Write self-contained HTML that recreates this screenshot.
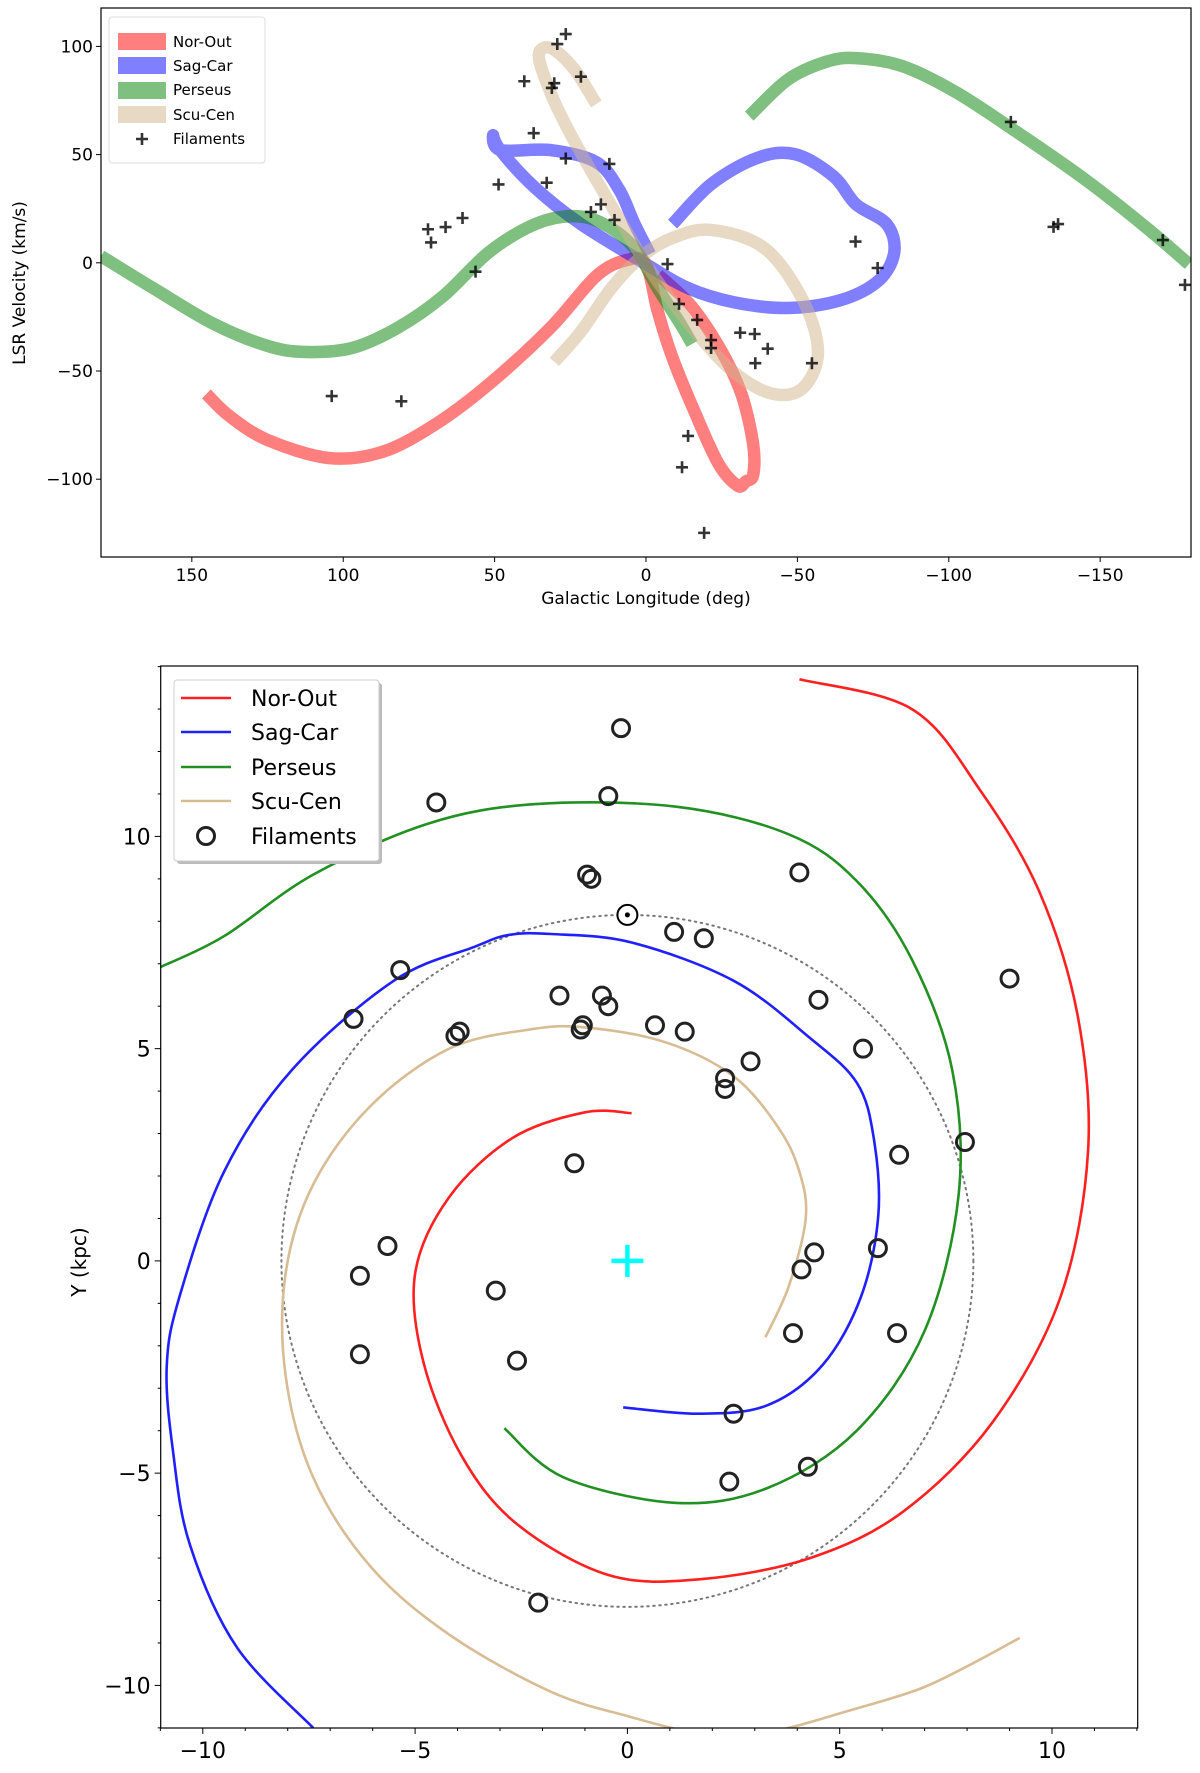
<!DOCTYPE html>
<html><head><meta charset="utf-8"><style>
body{margin:0;background:#fff}
svg text{font-family:"DejaVu Sans","Liberation Sans",sans-serif}
</style></head><body>
<svg id="fig" width="1200" height="1768" viewBox="0 0 1200 1768" xmlns="http://www.w3.org/2000/svg">
<rect width="1200" height="1768" fill="#fff"/>
<g id="top"></g>
<g id="bot"></g>
</svg>
<script>
// ---- top chart data (longitude deg, velocity km/s) ----
const norOutL=[145.2,137.6,125,104.8,87.1,69.4,51.8,31.6,16.4,6.3,0,-3.8,-8.8,-16.4,-24,-30.3,-33,-35.4,-35.4,-31.6,-25,-15,-4];
const norOutV=[-60.6,-70.8,-81.9,-90.2,-87.4,-74.5,-56,-30.1,-6.1,1.3,-0.6,-22,-44,-70,-93,-103,-101,-98,-84,-61,-41,-20,-5.5];
const sagCarL=[-8.8,-21.5,-36.6,-49.2,-61.9,-69.4,-79.5,-82,-77,-64.4,-46.7,-29,-13.9,0,21.5,36.6,48,50.5,48,31.6,16.4,8.8,3.8,-1.3];
const sagCarV=[17.9,36.3,48.4,50.2,40,27,17.9,5,-8,-17.2,-20.9,-18.2,-11.7,-0.6,17.9,34.6,51.8,58.9,52.1,52.1,46.5,33.6,18,4];
const perL=[180,162.9,142.7,125,112.4,97.2,82.1,66.9,51.8,36.6,24,13.9,3.8,-3.8,-11.4,-15.2];
const perV=[3.1,-11.6,-28.3,-38.4,-41.2,-39.4,-30.1,-15.3,5,17.9,21.6,17.9,6.8,-11.6,-28.3,-37.5];
const per2L=[-34.1,-46.7,-59.3,-69.4,-84.6,-102.3,-122.5,-145.2,-165.4,-179.3];
const per2V=[67.8,84.5,92.8,94.6,90.9,78.9,60.4,38.3,16.1,-0.6];
const scuL=[16.4,24,31.6,35.4,31.6,25.3,16.4,6.3,0,-6.3,-16.4,-29,-41.7,-51.8,-56.8,-51.8,-39.1,-21.5,-8.8,1.3,11.4,21.5,30.3];
const scuV=[73.4,90,99.3,95.6,78.9,60.4,38.3,14.2,-0.6,-13.5,-32,-50.5,-60.5,-57.9,-41.2,-17.2,6.8,15.2,11.5,3.1,-11.6,-31.8,-45.8];
const filL=[26.5,29.3,40.2,21.5,30.3,31.1,37.1,26.5,12.1,48.7,32.8,60.6,66.2,72,71,14.9,18.2,10.4,56.3,-7.1,-69.2,-76.5,-120.5,-134.6,-136.1,-170.7,-178,-10.9,-16.9,-21.5,-21.5,-31.1,-35.9,-40.2,-36.1,-54.8,103.8,80.8,-13.9,-11.9,-19.2];
const filV=[105.7,101.1,83.9,86,83,80.8,59.9,48.2,45.7,36.2,37,20.7,16.5,15.5,9.4,27,23.5,19.8,-4.1,-0.6,9.8,-2.4,65.1,16.6,17.9,10.5,-10.2,-19,-26.4,-35.7,-39.4,-32.3,-32.9,-39.7,-46.4,-46.4,-61.6,-64,-80,-94.5,-124.8];
const topXTicks=[150,100,50,0,-50,-100,-150];
const topYTicks=[100,50,0,-50,-100];
// ---- bottom chart data (kpc) ----
const noX=[0.1,-1,-2.7,-4.2,-5,-4.8,-3.9,-2.6,-0.45,1.7,4.3,6.5,8.6,10.2,10.85,10.6,9.7,8.3,6.7,4.05];
const noY=[3.48,3.5,2.9,1.5,-0.3,-2.4,-4.6,-6.2,-7.4,-7.5,-7.0,-5.9,-3.8,-0.85,2.6,5.8,8.7,11.1,13.0,13.7];
const scX=[-0.1,1.7,3.3,4.6,5.5,5.91,5.8,5.4,4.3,2.5,0.1,-1.8,-2.79,-3.6,-5.5,-7.9,-9.5,-10.55,-10.85,-10.7,-10.3,-9.2,-7.4];
const scY=[-3.45,-3.6,-3.4,-2.45,-0.85,1.07,2.9,4.2,5.25,6.6,7.5,7.7,7.68,7.4,6.6,4.5,2.1,-0.85,-2.5,-4.5,-6.7,-9.1,-11];
const peX=[-2.9,-1.5,1.15,3.3,5.4,7.0,7.8,7.65,6.7,5.4,3.8,1.15,-2.16,-4.7,-7.4,-9.5,-11];
const peY=[-3.94,-5.1,-5.7,-5.35,-4.0,-1.65,1.55,4.5,7.1,8.95,10.05,10.7,10.76,10.3,9.1,7.65,6.92];
const sqX=[3.25,3.8,4.2,4.05,3.55,2.5,0.9,-1.0,-2.3,-4.2,-6.05,-7.4,-8.05,-8.05,-7.4,-6.05,-4.2,-1.8,0.1,1.5,2.6,3.8,5.2,6.84,8,9.24];
const sqY=[-1.8,-0.6,1.0,2.1,3.15,4.35,5.15,5.5,5.45,5.0,3.65,1.8,-0.3,-2.7,-5.1,-7.2,-8.8,-10.15,-10.75,-11.1,-11.2,-11.0,-10.6,-10.1,-9.55,-8.88];
const ciX=[-0.15,-4.5,-0.45,-0.95,-0.85,4.05,1.1,1.8,-5.35,9.0,-6.45,-1.6,-0.6,-0.45,4.5,0.65,1.35,-1.05,-1.1,-3.95,-4.05,5.55,2.9,2.3,2.3,7.95,6.4,-1.25,-5.65,5.9,4.4,-6.3,4.1,-3.1,3.9,6.35,-6.3,-2.6,2.5,4.25,2.4,-2.1];
const ciY=[12.55,10.8,10.95,9.1,9.0,9.15,7.75,7.6,6.85,6.65,5.7,6.25,6.25,6.0,6.15,5.55,5.4,5.55,5.45,5.4,5.3,5.0,4.7,4.3,4.05,2.8,2.5,2.3,0.35,0.3,0.2,-0.35,-0.2,-0.7,-1.7,-1.7,-2.2,-2.35,-3.6,-4.85,-5.2,-8.05];
const botXTicks=[-10,-5,0,5,10];
const botYTicks=[10,5,0,-5,-10];
const sunR=8.15;

const NS='http://www.w3.org/2000/svg';
function mk(parent,tag,attrs){const e=document.createElementNS(NS,tag);for(const k in attrs)e.setAttribute(k,attrs[k]);parent.appendChild(e);return e;}
// Catmull-Rom smoothing through screen points
function smooth(P){
  let d='M'+P[0][0].toFixed(1)+' '+P[0][1].toFixed(1);
  for(let i=0;i<P.length-1;i++){
    const p0=P[i-1]||P[i],p1=P[i],p2=P[i+1],p3=P[i+2]||P[i+1];
    const c1=[p1[0]+(p2[0]-p0[0])/6,p1[1]+(p2[1]-p0[1])/6];
    const c2=[p2[0]-(p3[0]-p1[0])/6,p2[1]-(p3[1]-p1[1])/6];
    d+=`C${c1[0].toFixed(1)} ${c1[1].toFixed(1)} ${c2[0].toFixed(1)} ${c2[1].toFixed(1)} ${p2[0].toFixed(1)} ${p2[1].toFixed(1)}`;
  }
  return d;
}

// ===== TOP =====
const T=document.getElementById('top');
const tL=101,tR=1191,tT=8,tB=557;
const tx=l=>tL+(180-l)/360*(tR-tL);
const ty=v=>262.8-v*2.164;
const defs=mk(T,'defs',{});
const cp=mk(defs,'clipPath',{id:'ctop'});mk(cp,'rect',{x:tL,y:tT,width:tR-tL,height:tB-tT});
const gT=mk(T,'g',{'clip-path':'url(#ctop)'});
function thick(L,V,color,name){
  const d=smooth(L.map((l,i)=>[tx(l),ty(V[i])]));
  const p=mk(gT,'path',{d:d,fill:'none',stroke:color,'stroke-width':12.5,'stroke-opacity':0.5,'stroke-linejoin':'round'});
  
  
}
thick(norOutL,norOutV,'#ff0000','nor-out-lv');
thick(sagCarL,sagCarV,'#0000ff','sag-car-lv');
thick(perL,perV,'#008000','perseus-lv');
thick(per2L,per2V,'#008000','perseus-lv-far');
thick(scuL,scuV,'#d2b48c','scu-cen-lv');
filL.forEach((l,i)=>{
  const x=tx(l),y=ty(filV[i]);
  const p=mk(gT,'path',{d:`M${x-6} ${y}H${x+6}M${x} ${y-6}V${y+6}`,stroke:'#000','stroke-width':2.6,'stroke-opacity':0.8});
  
  
});
mk(T,'rect',{x:tL,y:tT,width:tR-tL,height:tB-tT,fill:'none',stroke:'#000','stroke-width':1.2});
topXTicks.forEach(t=>{
  const x=tx(t);mk(T,'line',{x1:x,x2:x,y1:tB,y2:tB+5,stroke:'#000'});
  const e=mk(T,'text',{x:x,y:tB+24,'font-size':17,'text-anchor':'middle'});e.textContent=t<0?'\u2212'+(-t):t;
  
  
});
topYTicks.forEach(t=>{
  const y=ty(t);mk(T,'line',{x1:tL-5,x2:tL,y1:y,y2:y,stroke:'#000'});
  const e=mk(T,'text',{x:tL-8,y:y+6,'font-size':17,'text-anchor':'end'});e.textContent=t<0?'\u2212'+(-t):t;
  
  
});
</script>
<script>
(function(){
const S=document.getElementById('fig');
S.insertAdjacentHTML('beforeend',`
<text x="646" y="604" font-size="17" text-anchor="middle">Galactic Longitude (deg)</text>
<text transform="translate(25,283) rotate(-90)" font-size="17" text-anchor="middle">LSR Velocity (km/s)</text>
<g>
<rect x="109" y="17" width="156" height="146" rx="3" fill="#fff" stroke="#ddd"/>
<rect x="118" y="33" width="48" height="17" fill="#ff0000" fill-opacity="0.5"/><text x="173" y="47" font-size="15">Nor-Out</text>
<rect x="118" y="57" width="48" height="17" fill="#0000ff" fill-opacity="0.5"/><text x="173" y="71" font-size="15">Sag-Car</text>
<rect x="118" y="82" width="48" height="17" fill="#008000" fill-opacity="0.5"/><text x="173" y="95" font-size="15">Perseus</text>
<rect x="118" y="106" width="48" height="17" fill="#d2b48c" fill-opacity="0.5"/><text x="173" y="120" font-size="15">Scu-Cen</text>
<path d="M136 139h12M142 133v12" stroke="#000" stroke-width="2.6" stroke-opacity="0.8"/><text x="173" y="144" font-size="15">Filaments</text>
</g>
<text transform="translate(86,1262) rotate(-90)" font-size="20" text-anchor="middle">Y (kpc)</text>
`);
})();
// ===== BOTTOM =====
const B=document.getElementById('bot');
const bL=160.7,bR=1137.7,bT=666,bBt=1728;
const bx=x=>627.4+x*42.46;
const by=y=>1260.9-y*42.45;
const cp2=mk(defs,'clipPath',{id:'cbot'});mk(cp2,'rect',{x:bL,y:bT,width:bR-bL,height:bBt-bT});
const gB=mk(B,'g',{'clip-path':'url(#cbot)'});
const circ=mk(gB,'circle',{cx:bx(0),cy:by(0),r:sunR*42.45,fill:'none',stroke:'#777','stroke-width':2,'stroke-dasharray':'1.5 4.5','stroke-linecap':'round'});


function arm(X,Y,color,name){
  const d=smooth(X.map((x,i)=>[bx(x),by(Y[i])]));
  const p=mk(gB,'path',{d:d,fill:'none',stroke:color,'stroke-width':2.6,'stroke-linejoin':'round'});
  
  
}
arm(noX,noY,'#ff2020','nor-out-arm');
arm(scX,scY,'#2020ff','sag-car-arm');
arm(peX,peY,'#229022','perseus-arm');
arm(sqX,sqY,'#d8bc94','scu-cen-arm');
ciX.forEach((x,i)=>{
  const c=mk(gB,'circle',{cx:bx(x),cy:by(ciY[i]),r:8.5,fill:'none',stroke:'#222','stroke-width':3});
  
  
});
const sun=mk(gB,'g',{});


mk(sun,'circle',{cx:bx(0),cy:by(sunR),r:10,fill:'#fff',stroke:'#000','stroke-width':2});
mk(sun,'circle',{cx:bx(0),cy:by(sunR),r:2.5,fill:'#000'});
const gc=mk(gB,'path',{d:`M${bx(0)-16} ${by(0)}h32M${bx(0)} ${by(0)-16}v32`,stroke:'#00ffff','stroke-width':4.5});


mk(B,'rect',{x:bL,y:bT,width:bR-bL,height:bBt-bT,fill:'none',stroke:'#000','stroke-width':1.2});
for(let v=-11;v<=12;v++){const x=bx(v);mk(B,'line',{x1:x,x2:x,y1:bBt,y2:bBt+(v%5?3:6),stroke:'#000'});}
for(let v=-11;v<=14;v++){const y=by(v);mk(B,'line',{x1:bL-(v%5?3:6),x2:bL,y1:y,y2:y,stroke:'#000'});}
botXTicks.forEach(t=>{
  const e=mk(B,'text',{x:bx(t),y:bBt+30,'font-size':22,'text-anchor':'middle'});e.textContent=t<0?'\u2212'+(-t):t;
  
  
});
botYTicks.forEach(t=>{
  const e=mk(B,'text',{x:bL-10,y:by(t)+8,'font-size':22,'text-anchor':'end'});e.textContent=t<0?'\u2212'+(-t):t;
  
  
});
B.insertAdjacentHTML('beforeend',`
<g>
<rect x="177" y="683" width="205" height="181" rx="3" fill="#bbb"/>
<rect x="174" y="680" width="205" height="181" rx="3" fill="#fff" stroke="#ccc"/>
<line x1="181" x2="231" y1="698" y2="698" stroke="#ff2020" stroke-width="2.6"/><text x="251" y="706" font-size="22">Nor-Out</text>
<line x1="181" x2="231" y1="732" y2="732" stroke="#2020ff" stroke-width="2.6"/><text x="251" y="740" font-size="22">Sag-Car</text>
<line x1="181" x2="231" y1="767" y2="767" stroke="#229022" stroke-width="2.6"/><text x="251" y="775" font-size="22">Perseus</text>
<line x1="181" x2="231" y1="801" y2="801" stroke="#d8bc94" stroke-width="2.6"/><text x="251" y="809" font-size="22">Scu-Cen</text>
<circle cx="206" cy="836" r="8.5" fill="none" stroke="#222" stroke-width="3"/><text x="251" y="844" font-size="22">Filaments</text>
</g>`);
</script>
</body></html>
